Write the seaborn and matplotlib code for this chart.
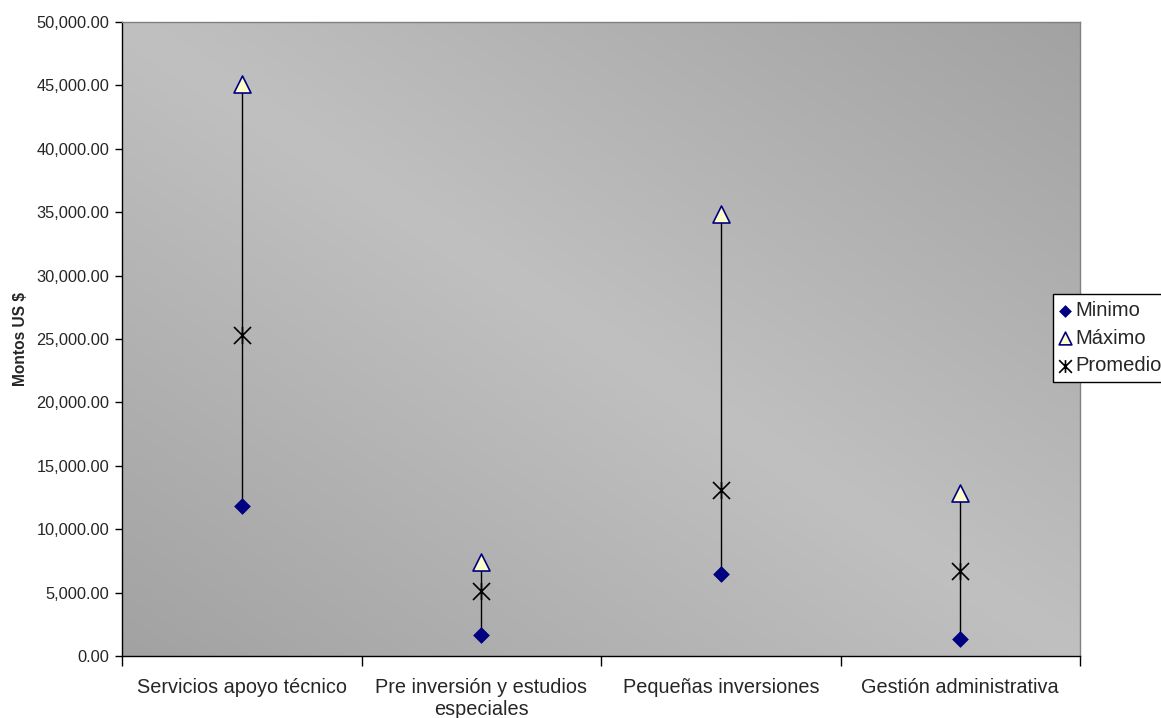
import numpy as np
import pandas as pd
import matplotlib
matplotlib.use("Agg")
import matplotlib.pyplot as plt
from matplotlib.path import Path
from matplotlib.markers import MarkerStyle
from matplotlib.ticker import FuncFormatter, MultipleLocator, FixedLocator
import seaborn as sns

# Montos por tipo de actividad (US $)
categorias = ["Servicios apoyo técnico", "Pre inversión y estudios\nespeciales",
              "Pequeñas inversiones", "Gestión administrativa"]
minimo = [11830, 1650, 6460, 1340]
maximo = [45100, 7420, 34850, 12850]
promedio = [25320, 5120, 13090, 6700]

df = pd.DataFrame({"categoria": categorias, "Minimo": minimo,
                   "Máximo": maximo, "Promedio": promedio})

sns.set_style("white")
plt.rcParams["font.family"] = ["Liberation Sans", "DejaVu Sans"]

fig = plt.figure(figsize=(11.61, 7.18), dpi=100)
ax = fig.add_axes([122 / 1161, 1 - 656 / 718, (1080 - 122) / 1161, (656 - 22) / 718])

# Diagonal gray gradient for the plot area
n = 400
gx, gy = np.meshgrid(np.linspace(0, 1, n), np.linspace(0, 1, n))
v = np.abs(gx - gy)
light, dark = 192 / 255, 162 / 255
shade = light - (light - dark) * v
rgb = np.dstack([shade, shade, shade])
ax.imshow(rgb, extent=(0, 1, 0, 1), transform=ax.transAxes, aspect="auto",
          zorder=0, interpolation="bilinear")

# Asterisk-like marker: X plus vertical bar
star_path = Path(
    [(-1, -1), (1, 1), (-1, 1), (1, -1), (0, -1), (0, 1)],
    [Path.MOVETO, Path.LINETO, Path.MOVETO, Path.LINETO, Path.MOVETO, Path.LINETO],
)
star_marker = MarkerStyle(star_path)

# Range lines from minimum to maximum
ax.vlines(df["categoria"], df["Minimo"], df["Máximo"], color="black",
          linewidth=1.0, zorder=2)

sns.scatterplot(data=df, x="categoria", y="Minimo", marker="D", s=64,
                color="#000080", edgecolor="#000080", linewidth=0.5,
                label="Minimo", ax=ax, zorder=3)
sns.scatterplot(data=df, x="categoria", y="Máximo", marker="^", s=150,
                color="#FFFFCC", edgecolor="#000080", linewidth=1.2,
                label="Máximo", ax=ax, zorder=3)
sns.scatterplot(data=df, x="categoria", y="Promedio", marker=star_marker, s=150,
                color="black", edgecolor="black", linewidth=1.2,
                label="Promedio", ax=ax, zorder=3)

ax.set_xlim(-0.5, 3.5)
ax.set_ylim(0, 50000)
ax.yaxis.set_major_locator(MultipleLocator(5000))
ax.yaxis.set_major_formatter(FuncFormatter(lambda val, pos: f"{val:,.2f}"))

ax.set_xticks(range(len(categorias)))
ax.set_xticklabels(categorias, linespacing=1.2)
ax.xaxis.set_minor_locator(FixedLocator(np.arange(-0.5, 4.0, 1.0)))
ax.tick_params(axis="x", which="major", length=0, pad=16, labelsize=14.3)
ax.tick_params(axis="x", which="minor", length=7, width=1, color="black",
               direction="out", bottom=True)
ax.tick_params(axis="y", which="major", length=5, width=1, color="black",
               direction="out", left=True, labelsize=11.8, pad=4)

ax.set_xlabel("")
ax.set_ylabel("Montos US $", fontsize=11.2, fontweight="bold", labelpad=6)

for side in ["left", "bottom"]:
    ax.spines[side].set_color("black")
    ax.spines[side].set_linewidth(1.0)
for side in ["top", "right"]:
    ax.spines[side].set_color("#808080")
    ax.spines[side].set_linewidth(1.0)

handles, labels = ax.get_legend_handles_labels()
ax.get_legend().remove()
leg = fig.legend(handles, labels, loc="upper left",
                 bbox_to_anchor=(1053 / 1161, 1 - 294 / 718),
                 frameon=True, fancybox=False, framealpha=1, edgecolor="black",
                 fontsize=14.5, handlelength=0.5, handletextpad=0.25,
                 borderpad=0.35, labelspacing=0.42, markerscale=0.75,
                 borderaxespad=0)
leg.get_frame().set_linewidth(1.0)

fig.savefig("out.png", dpi=100)
